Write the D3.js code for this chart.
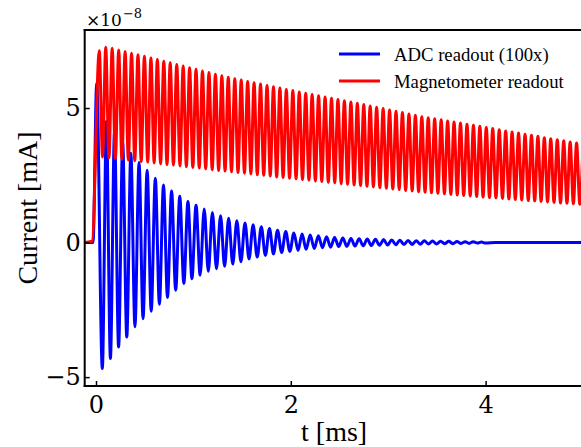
<!DOCTYPE html>
<html>
<head>
<meta charset="utf-8">
<script src="https://cdn.jsdelivr.net/npm/d3@7"></script>
<style>
  html, body { margin: 0; padding: 0; background: #fff; }
  svg { display: block; }
  text { font-family: "Liberation Serif", "Times New Roman", serif; fill: #000; }
</style>
</head>
<body>
<svg id="chart" width="581" height="447"></svg>
<script>
// ---- Data (values in units of 1e-8 mA, times in ms) ----
const seriesNames = ["ADC readout (100x)", "Magnetometer readout"];
const xTicks = [0, 2, 4];
const yTicks = [-5, 0, 5];

// Blue (ADC readout) : leading flat part, first peak, then alternating extrema
const blueLead = [[-0.116, 0], [-0.03, 0], [0.007, 5.92]];
const blueTroughT = [0.065,0.148,0.232,0.316,0.400,0.483,0.567,0.651,0.734,0.818,0.902,0.985,1.069,1.153,1.237,1.320,1.404,1.488,1.571,1.655,1.739,1.822,1.906,1.990,2.074,2.157,2.241,2.325,2.408,2.492,2.576,2.659,2.743,2.827,2.911,2.994,3.078,3.162,3.245,3.329,3.413,3.496,3.580,3.664,3.748,3.831,3.915,3.999];
const blueTroughV = [-4.68,-4.31,-3.88,-3.51,-3.13,-2.83,-2.55,-2.29,-2.04,-1.77,-1.52,-1.34,-1.21,-1.07,-0.97,-0.88,-0.80,-0.71,-0.61,-0.54,-0.48,-0.42,-0.37,-0.33,-0.29,-0.25,-0.22,-0.19,-0.17,-0.15,-0.14,-0.13,-0.12,-0.11,-0.10,-0.09,-0.08,-0.075,-0.07,-0.06,-0.05,-0.05,-0.04,-0.04,-0.03,-0.03,-0.02,-0.02];
const bluePeakT = [0.107,0.190,0.274,0.358,0.442,0.525,0.609,0.693,0.776,0.860,0.944,1.027,1.111,1.195,1.279,1.362,1.446,1.530,1.613,1.697,1.781,1.864,1.948,2.032,2.116,2.199,2.283,2.367,2.450,2.534,2.618,2.701,2.785,2.869,2.953,3.036,3.120,3.204,3.287,3.371,3.455,3.538,3.622,3.706,3.790,3.873,3.957];
const bluePeakV = [4.50,4.10,3.70,3.32,2.98,2.69,2.39,2.14,1.92,1.72,1.53,1.39,1.25,1.12,1.00,0.90,0.81,0.73,0.66,0.59,0.52,0.46,0.41,0.36,0.32,0.28,0.25,0.22,0.19,0.17,0.155,0.14,0.13,0.12,0.11,0.10,0.09,0.08,0.07,0.065,0.055,0.05,0.045,0.04,0.03,0.03,0.02];
const blueTail = [[4.1, 0], [5.1, 0]];

// Red (magnetometer readout)
const redLead = [[-0.116, 0], [-0.04, 0.05]];
const redPeakT = [0.034,0.100,0.166,0.233,0.299,0.365,0.431,0.497,0.564,0.630,0.696,0.762,0.829,0.895,0.961,1.027,1.093,1.160,1.226,1.292,1.358,1.425,1.491,1.557,1.623,1.689,1.756,1.822,1.888,1.954,2.021,2.087,2.153,2.219,2.285,2.352,2.418,2.484,2.550,2.617,2.683,2.749,2.815,2.881,2.948,3.014,3.080,3.146,3.213,3.279,3.345,3.411,3.477,3.544,3.610,3.676,3.742,3.809,3.875,3.941,4.007,4.073,4.140,4.206,4.272,4.338,4.405,4.471,4.537,4.603,4.669,4.736,4.802,4.868,4.934,5.000];
const redPeakV = [7.13,7.26,7.22,7.16,7.10,7.04,6.98,6.92,6.86,6.80,6.74,6.68,6.62,6.56,6.50,6.44,6.38,6.32,6.26,6.20,6.14,6.09,6.04,5.99,5.94,5.89,5.84,5.79,5.74,5.69,5.65,5.60,5.55,5.50,5.46,5.41,5.36,5.32,5.27,5.22,5.18,5.13,5.08,5.03,4.98,4.93,4.88,4.83,4.78,4.73,4.68,4.64,4.60,4.56,4.52,4.48,4.44,4.40,4.36,4.32,4.28,4.24,4.19,4.15,4.11,4.07,4.03,3.99,3.95,3.90,3.86,3.82,3.78,3.74,3.70,3.66];
const redTroughT = [0.067,0.133,0.199,0.266,0.332,0.398,0.464,0.531,0.597,0.663,0.729,0.795,0.862,0.928,0.994,1.060,1.126,1.193,1.259,1.325,1.391,1.458,1.524,1.590,1.656,1.722,1.789,1.855,1.921,1.987,2.054,2.120,2.186,2.252,2.318,2.385,2.451,2.517,2.583,2.650,2.716,2.782,2.848,2.914,2.981,3.047,3.113,3.179,3.246,3.312,3.378,3.444,3.510,3.577,3.643,3.709,3.775,3.842,3.908,3.974,4.040,4.106,4.173,4.239,4.305,4.371,4.438,4.504,4.570,4.636,4.702,4.769,4.835,4.901,4.967];
const redTroughV = [3.18,3.15,3.12,3.10,3.07,3.04,3.01,2.99,2.96,2.93,2.90,2.88,2.85,2.82,2.79,2.77,2.74,2.71,2.68,2.66,2.63,2.60,2.58,2.55,2.52,2.50,2.47,2.44,2.42,2.39,2.37,2.34,2.32,2.29,2.27,2.24,2.22,2.19,2.17,2.14,2.12,2.09,2.07,2.04,2.02,1.99,1.97,1.94,1.92,1.89,1.87,1.85,1.83,1.81,1.79,1.77,1.75,1.73,1.71,1.69,1.67,1.66,1.64,1.62,1.60,1.58,1.56,1.55,1.53,1.51,1.49,1.47,1.46,1.44,1.42];

// ---- Build point lists ----
function build(lead, aT, aV, bT, bV, tail) {
  const pts = lead.map(d => ({t: d[0], v: d[1]}));
  const ext = [];
  aT.forEach((t, i) => ext.push({t, v: aV[i]}));
  bT.forEach((t, i) => ext.push({t, v: bV[i]}));
  ext.sort((a, b) => a.t - b.t);
  return pts.concat(ext, tail.map(d => ({t: d[0], v: d[1]})));
}
const blueData = build(blueLead, blueTroughT, blueTroughV, bluePeakT, bluePeakV, blueTail);
const redData = build(redLead, redPeakT, redPeakV, redTroughT, redTroughV, []);

// ---- Layout ----
const W = 581, H = 447;
const L = 84.7, R = 583.5, T = 30, B = 386;
const svg = d3.select("#chart");
const tickFont = "'DejaVu Serif', serif";

const x = d3.scaleLinear().domain([-0.116, 5.005]).range([L, R]);
const y = d3.scaleLinear().domain([-5.33, 7.9]).range([B, T]);

svg.append("defs").append("clipPath").attr("id", "clip")
  .append("rect").attr("x", L).attr("y", T).attr("width", R - L).attr("height", B - T);

const line = d3.line().x(d => x(d.t)).y(d => y(d.v)).curve(d3.curveMonotoneX);

const plot = svg.append("g").attr("clip-path", "url(#clip)");
plot.append("path").datum(blueData).attr("d", line)
  .attr("fill", "none").attr("stroke", "#0000ff").attr("stroke-width", 3).attr("stroke-linejoin", "round");
plot.append("path").datum(redData).attr("d", line)
  .attr("fill", "none").attr("stroke", "#ff0000").attr("stroke-width", 3).attr("stroke-linejoin", "round");

// ---- Axes ----
const xAxis = d3.axisBottom(x).tickValues(xTicks).tickSizeInner(-5).tickSizeOuter(0).tickPadding(10).tickFormat(d3.format("d"));
const gx = svg.append("g").attr("transform", `translate(0,${B})`).call(xAxis);
gx.attr("font-size", null).attr("font-family", null);
gx.select(".domain").remove();
gx.selectAll(".tick line").attr("stroke", "#000").attr("stroke-width", 1.5);
gx.selectAll(".tick text").style("font-size", "24px").style("font-family", tickFont);

const yAxis = d3.axisLeft(y).tickValues(yTicks).tickSizeInner(-5).tickSizeOuter(0).tickPadding(4).tickFormat(d3.format("d"));
const gy = svg.append("g").attr("transform", `translate(${L},0)`).call(yAxis);
gy.attr("font-size", null).attr("font-family", null);
gy.select(".domain").remove();
gy.selectAll(".tick line").attr("stroke", "#000").attr("stroke-width", 1.5);
gy.selectAll(".tick text").style("font-size", "24px").style("font-family", tickFont);

// spines
svg.append("line").attr("x1", L).attr("x2", L).attr("y1", T - 1).attr("y2", B + 1).attr("stroke", "#000").attr("stroke-width", 2);
svg.append("line").attr("x1", L - 1).attr("x2", W).attr("y1", B).attr("y2", B).attr("stroke", "#000").attr("stroke-width", 2);
svg.append("line").attr("x1", L - 1).attr("x2", W).attr("y1", T).attr("y2", T).attr("stroke", "#000").attr("stroke-width", 2);

// axis labels
svg.append("text").attr("x", (L + R) / 2).attr("y", 441).attr("text-anchor", "middle")
  .style("font-size", "28px").text("t [ms]");
svg.append("text").attr("transform", `translate(37,${(T + B) / 2}) rotate(-90)`).attr("text-anchor", "middle")
  .style("font-size", "28px").text("Current [mA]");

// offset text ×10^-8
const off = svg.append("text").attr("x", 86).attr("y", 26).style("font-size", "17px").style("font-family", tickFont);
off.append("tspan").text("×10");
off.append("tspan").attr("dy", -8).attr("dx", 1).style("font-size", "13px").text("−8");

// ---- Legend ----
const legend = svg.append("g");
const colors = ["#0000ff", "#ff0000"];
const rowsY = [54, 81];
seriesNames.forEach((name, i) => {
  legend.append("line").attr("x1", 339).attr("x2", 380).attr("y1", rowsY[i]).attr("y2", rowsY[i])
    .attr("stroke", colors[i]).attr("stroke-width", 3);
  legend.append("text").attr("x", 394).attr("y", rowsY[i] + 7).style("font-size", "18.7px").text(name);
});
</script>
</body>
</html>
